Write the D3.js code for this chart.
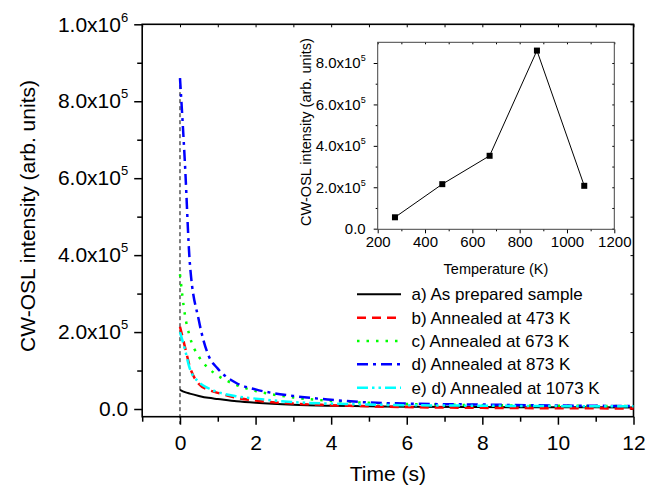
<!DOCTYPE html>
<html>
<head>
<meta charset="utf-8">
<script src="https://cdn.jsdelivr.net/npm/d3@7"></script>
<style>
  body { margin: 0; background: #fff; }
  svg { font-family: "Liberation Sans", Arial, sans-serif; }
</style>
</head>
<body>
<svg id="chart" width="646" height="487"></svg>
<script>
// CW-OSL decay curves + inset (intensity vs annealing temperature)

// main plot data
var time = [0, 0.13, 0.26, 0.5, 0.75, 1, 1.5, 2, 3, 4, 5, 6, 8, 10, 12];
var asPrepared = [5.0e4, 4.4e4, 4.0e4, 3.4e4, 2.9e4, 2.6e4, 2.0e4, 1.6e4, 1.1e4, 8.5e3, 7e3, 6e3, 5e3, 4.5e3, 4e3];
var ann473 = [2.14e5, 1.62e5, 1.1e5, 6.5e4, 5.0e4, 4.2e4, 2.9e4, 2.2e4, 1.4e4, 1.0e4, 7e3, 5e3, 3e3, 2e3, 1.5e3];
var ann673 = [3.5e5, 2.45e5, 1.88e5, 1.36e5, 1.06e5, 8.7e4, 6.2e4, 4.7e4, 3.0e4, 2.1e4, 1.6e4, 1.3e4, 1.0e4, 8.5e3, 7.5e3];
var ann873 = [8.6e5, 6.4e5, 3.8e5, 2.3e5, 1.4e5, 1.05e5, 6.7e4, 5.1e4, 3.4e4, 2.4e4, 1.7e4, 1.4e4, 1.15e4, 9e3, 7.8e3];
var ann1073 = [2.0e5, 1.55e5, 1.05e5, 7.0e4, 5.4e4, 4.4e4, 3.3e4, 2.7e4, 1.8e4, 1.4e4, 1.15e4, 1.0e4, 8.5e3, 7.5e3, 7e3];
var seriesNames = ["a) As prepared sample", "b) Annealed at 473 K", "c) Annealed at 673 K", "d) Annealed at 873 K", "e) d) Annealed at 1073 K"];
var xTicks = [0, 2, 4, 6, 8, 10, 12];
var yTicks = [0, 2e5, 4e5, 6e5, 8e5, 1e6];

// inset data
var temperature = [273, 473, 673, 873, 1073];
var peakIntensity = [5.5e4, 2.15e5, 3.52e5, 8.6e5, 2.07e5];
var insetXTicks = [200, 400, 600, 800, 1000, 1200];
var insetYTicks = [0, 2e5, 4e5, 6e5, 8e5];

function vis_osl() {
var svg = d3.select("#chart");

var series = [
  { name: seriesNames[0], values: asPrepared, color: "#000000", dash: null, width: 2 },
  { name: seriesNames[1], values: ann473, color: "#ff0000", dash: "9,6", width: 2.5 },
  { name: seriesNames[2], values: ann673, color: "#00ff00", dash: "2.5,7", width: 2.5 },
  { name: seriesNames[3], values: ann873, color: "#0000ff", dash: "11,5,3,5", width: 2.5 },
  { name: seriesNames[4], values: ann1073, color: "#00ffff", dash: "11,4,2.5,4,2.5,4", width: 2.5 }
];

var x = d3.scaleLinear().domain([-1, 12]).range([142.2, 633.5]);
var y = d3.scaleLinear().domain([-2e4, 1e6]).range([416.7, 24.3]);

// superscript labels like 2.0x10^5
function sciLabel(sel, supSize, dy) {
  sel.selectAll(".tick text").each(function(d) {
    var t = d3.select(this);
    t.text(null);
    if (d === 0) { t.text("0.0"); return; }
    var e = Math.floor(Math.log10(d) + 1e-9);
    var m = d / Math.pow(10, e);
    t.append("tspan").text(m.toFixed(1) + "x10");
    t.append("tspan").attr("dy", dy).attr("font-size", supSize).text(e);
  });
}

function styleAxis(g, fs) {
  g.select(".domain").remove();
  g.selectAll("line").attr("stroke", "#000");
  g.selectAll("text").attr("fill", "#000").attr("font-size", fs);
}

// minor ticks main
var xMinor = d3.range(-1, 13, 2);
var yMinor = d3.range(1e5, 1e6, 2e5);

var gx = svg.append("g").attr("transform", "translate(0,416.7)")
  .call(d3.axisBottom(x).tickValues(xTicks).tickFormat(d3.format("d")).tickSize(8).tickPadding(10));
styleAxis(gx, 21);
gx.selectAll("line").attr("stroke-width", 1.5);
var gxm = svg.append("g").attr("transform", "translate(0,416.7)")
  .call(d3.axisBottom(x).tickValues(xMinor).tickFormat("").tickSize(5));
styleAxis(gxm, 21);
gxm.selectAll("line").attr("stroke-width", 1.5);

var gy = svg.append("g").attr("transform", "translate(142.2,0)")
  .call(d3.axisLeft(y).tickValues(yTicks).tickSize(8).tickPadding(6));
styleAxis(gy, 21);
gy.selectAll("line").attr("stroke-width", 1.5);
sciLabel(gy, 13, -10);
var gym = svg.append("g").attr("transform", "translate(142.2,0)")
  .call(d3.axisLeft(y).tickValues(yMinor).tickFormat("").tickSize(5));
styleAxis(gym, 21);
gym.selectAll("line").attr("stroke-width", 1.5);

// mirror ticks (top / right)
var gt = svg.append("g").attr("transform", "translate(0,24.3)")
  .call(d3.axisTop(x).tickValues(xTicks.concat(xMinor)).tickFormat("").tickSize(-3));
styleAxis(gt, 10);
var gr = svg.append("g").attr("transform", "translate(633.5,0)")
  .call(d3.axisRight(y).tickValues(yTicks.concat(yMinor)).tickFormat("").tickSize(-3));
styleAxis(gr, 10);

// frame
svg.append("rect")
  .attr("x", 142.2).attr("y", 24.3)
  .attr("width", 633.5 - 142.2).attr("height", 416.7 - 24.3)
  .attr("fill", "none").attr("stroke", "#000").attr("stroke-width", 1.6);

// drop line at t = 0
svg.append("line")
  .attr("x1", x(0)).attr("x2", x(0))
  .attr("y1", y(ann873[0])).attr("y2", 424)
  .attr("stroke", "#000").attr("stroke-width", 1).attr("stroke-dasharray", "4,3");

// curves
var line = d3.line()
  .x(function(d, i) { return x(time[i]); })
  .y(function(d) { return y(d); })
  .curve(d3.curveMonotoneX);

svg.append("g")
  .selectAll("path")
  .data(series)
  .enter()
  .append("path")
    .attr("d", function(d) { return line(d.values); })
    .attr("fill", "none")
    .attr("stroke", function(d) { return d.color; })
    .attr("stroke-width", function(d) { return d.width; })
    .attr("stroke-dasharray", function(d) { return d.dash; });

// axis titles
svg.append("text")
  .attr("x", 387.9).attr("y", 481)
  .attr("text-anchor", "middle").attr("font-size", 21)
  .text("Time (s)");
svg.append("text")
  .attr("transform", "translate(35,216) rotate(-90)")
  .attr("text-anchor", "middle").attr("font-size", 21)
  .text("CW-OSL intensity (arb. units)");

// legend
var legend = svg.append("g")
  .selectAll("g")
  .data(series)
  .enter()
  .append("g")
    .attr("transform", function(d, i) { return "translate(357," + (294.3 + i * 23.35) + ")"; });
legend.append("line")
  .attr("x1", 0).attr("x2", 44)
  .attr("stroke", function(d) { return d.color; })
  .attr("stroke-width", function(d) { return d.width; })
  .attr("stroke-dasharray", function(d) { return d.dash; });
legend.append("text")
  .attr("x", 54.6).attr("y", 6)
  .attr("font-size", 17)
  .text(function(d) { return d.name; });

/* ----- inset ----- */
var ix = d3.scaleLinear().domain([200, 1200]).range([377.7, 614.3]);
var iy = d3.scaleLinear().domain([-3000, 9e5]).range([229.3, 42.3]);
var ixMinor = d3.range(300, 1200, 200);
var iyMinor = d3.range(1e5, 9e5, 2e5);

var igx = svg.append("g").attr("transform", "translate(0,229.3)")
  .call(d3.axisBottom(ix).tickValues(insetXTicks).tickFormat(d3.format("d")).tickSize(4).tickPadding(3));
styleAxis(igx, 15);
var igxm = svg.append("g").attr("transform", "translate(0,229.3)")
  .call(d3.axisBottom(ix).tickValues(ixMinor).tickFormat("").tickSize(2));
styleAxis(igxm, 15);
var igy = svg.append("g").attr("transform", "translate(377.7,0)")
  .call(d3.axisLeft(iy).tickValues(insetYTicks).tickSize(4).tickPadding(8));
styleAxis(igy, 15);
sciLabel(igy, 9, -7);
var igym = svg.append("g").attr("transform", "translate(377.7,0)")
  .call(d3.axisLeft(iy).tickValues(iyMinor).tickFormat("").tickSize(2));
styleAxis(igym, 15);
var igt = svg.append("g").attr("transform", "translate(0,42.3)")
  .call(d3.axisTop(ix).tickValues(insetXTicks.concat(ixMinor)).tickFormat("").tickSize(-2));
styleAxis(igt, 10);
var igr = svg.append("g").attr("transform", "translate(614.3,0)")
  .call(d3.axisRight(iy).tickValues(insetYTicks.concat(iyMinor)).tickFormat("").tickSize(-2));
styleAxis(igr, 10);

svg.append("rect")
  .attr("x", 377.7).attr("y", 42.3)
  .attr("width", 614.3 - 377.7).attr("height", 229.3 - 42.3)
  .attr("fill", "none").attr("stroke", "#444").attr("stroke-width", 1);

var iline = d3.line()
  .x(function(d, i) { return ix(temperature[i]); })
  .y(function(d) { return iy(d); });
svg.append("path")
  .attr("d", iline(peakIntensity))
  .attr("fill", "none").attr("stroke", "#000").attr("stroke-width", 1);
svg.append("g")
  .selectAll("rect")
  .data(peakIntensity)
  .enter()
  .append("rect")
    .attr("x", function(d, i) { return ix(temperature[i]) - 3; })
    .attr("y", function(d) { return iy(d) - 3; })
    .attr("width", 6).attr("height", 6)
    .attr("fill", "#000");

svg.append("text")
  .attr("x", 496).attr("y", 273.7)
  .attr("text-anchor", "middle").attr("font-size", 14.5)
  .text("Temperature (K)");
svg.append("text")
  .attr("transform", "translate(311,132) rotate(-90)")
  .attr("text-anchor", "middle").attr("font-size", 14.5)
  .text("CW-OSL intensity (arb. units)");

} // end vis_osl

vis_osl();
</script>
</body>
</html>
